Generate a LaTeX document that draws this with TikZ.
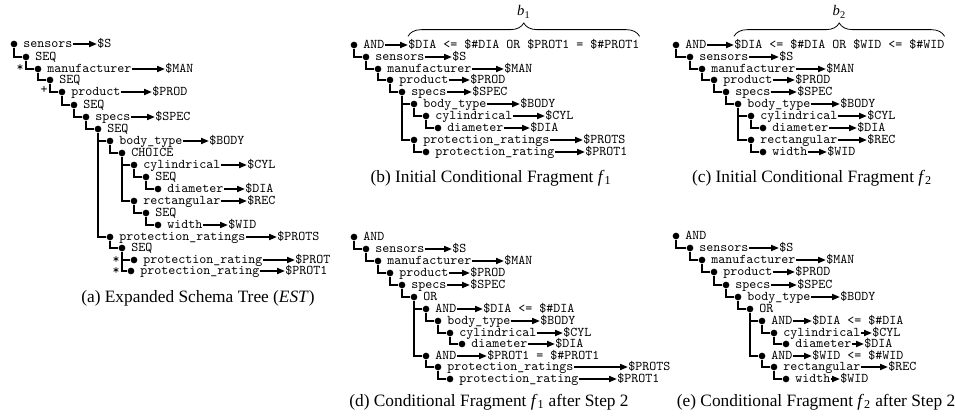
\documentclass[tikz,border=0pt]{standalone}
\usepackage{fontspec}
\setmainfont{Liberation Serif}
\usetikzlibrary{arrows.meta,decorations.pathreplacing}

\tikzset{
    treedot/.style={circle, fill=black, inner sep=0pt, minimum size=5pt},
    treelabel/.style={anchor=base west, inner sep=0pt, font=\ttfamily\fontsize{10}{11}\selectfont},
    treevar/.style={treelabel},
    treemark/.style={anchor=base, inner sep=0pt, font=\ttfamily\fontsize{10}{11}\selectfont},
    treeedge/.style={draw, line width=1.2pt},
    treearrow/.style={draw, line width=1.4pt, -{Triangle[length=6pt,width=4.5pt]}},
    treebrace/.style={draw, line width=0.6pt, decorate, decoration={brace, amplitude=10pt}},
    bracelabel/.style={inner sep=0pt, font=\fontsize{11}{13}\selectfont},
    treecaption/.style={inner sep=0pt, font=\fontsize{13}{15}\selectfont}
}

% one row of a tree: name, dot x, dot y, label
\newcommand{\trow}[4]{%
    \node[treedot] (#1) at (#2,#3) {};
    \node[treelabel] (#1-l) at (#2+9,#3+3.5) {#4};
}
% value bound to a row: name, x of the value, value
\newcommand{\tval}[3]{%
    \node[treevar] (#1-v) at (#1-l.base -| #2,0) {#3};
    \draw[treearrow] (#1-l.east |- #1) -- (#1-v.west |- #1);
}
% parent -> child connector
\newcommand{\tedge}[2]{\draw[treeedge] (#1) |- (#2);}

\begin{document}
\begin{tikzpicture}[x=0.75pt, y=-0.75pt]
\useasboundingbox (0,0) rectangle (955,420);

% (a) expanded schema tree
\trow{a-sensors}{14}{44}{sensors} \tval{a-sensors}{97}{\$S}
\trow{a-seq1}{26}{57}{SEQ}
\trow{a-manuf}{38}{69}{manufacturer} \tval{a-manuf}{165}{\$MAN}
\trow{a-seq2}{50}{80}{SEQ}
\trow{a-product}{62}{92}{product} \tval{a-product}{152}{\$PROD}
\trow{a-seq3}{74}{105}{SEQ}
\trow{a-specs}{86}{117}{specs} \tval{a-specs}{155}{\$SPEC}
\trow{a-seq4}{98}{129}{SEQ}
\trow{a-body}{110}{141}{body\_type} \tval{a-body}{209}{\$BODY}
\trow{a-choice}{122}{153}{CHOICE}
\trow{a-cyl}{134}{165}{cylindrical} \tval{a-cyl}{247}{\$CYL}
\trow{a-seq5}{146}{177}{SEQ}
\trow{a-dia}{158}{189}{diameter} \tval{a-dia}{245}{\$DIA}
\trow{a-rect}{134}{201}{rectangular} \tval{a-rect}{247}{\$REC}
\trow{a-seq6}{146}{213}{SEQ}
\trow{a-wid}{158}{225}{width} \tval{a-wid}{228}{\$WID}
\trow{a-prots}{110}{237}{protection\_ratings} \tval{a-prots}{277}{\$PROTS}
\trow{a-seq7}{122}{248}{SEQ}
\trow{a-prot}{134}{260}{protection\_rating} \tval{a-prot}{295}{\$PROT}
\trow{a-prot1}{131}{271}{protection\_rating} \tval{a-prot1}{285}{\$PROT1}
\tedge{a-sensors}{a-seq1} \tedge{a-seq1}{a-manuf} \tedge{a-manuf}{a-seq2}
\tedge{a-seq2}{a-product} \tedge{a-product}{a-seq3} \tedge{a-seq3}{a-specs}
\tedge{a-specs}{a-seq4} \tedge{a-seq4}{a-body} \tedge{a-seq4}{a-prots}
\tedge{a-body}{a-choice} \tedge{a-choice}{a-cyl} \tedge{a-choice}{a-rect}
\tedge{a-cyl}{a-seq5} \tedge{a-seq5}{a-dia} \tedge{a-rect}{a-seq6}
\tedge{a-seq6}{a-wid} \tedge{a-prots}{a-seq7} \tedge{a-seq7}{a-prot}
\tedge{a-seq7}{a-prot1}
\node[treemark] (a-m1) at (20,72) {*};
\node[treemark] (a-m2) at (44,94) {+};
\node[treemark] (a-m3) at (116,263) {*};
\node[treemark] (a-m4) at (116,274) {*};
\node[treecaption] (a-cap) at (198,298) {(a) Expanded Schema Tree (\textit{EST})};

% (b) initial fragment f1
\trow{b-and}{354}{45}{AND} \tval{b-and}{408}{\$DIA <= \$\#DIA OR \$PROT1 = \$\#PROT1}
\trow{b-sensors}{366}{57}{sensors} \tval{b-sensors}{452}{\$S}
\trow{b-manuf}{378}{69}{manufacturer} \tval{b-manuf}{504}{\$MAN}
\trow{b-product}{390}{80}{product} \tval{b-product}{470}{\$PROD}
\trow{b-specs}{402}{92}{specs} \tval{b-specs}{472}{\$SPEC}
\trow{b-body}{414}{104}{body\_type} \tval{b-body}{520}{\$BODY}
\trow{b-cyl}{426}{116}{cylindrical} \tval{b-cyl}{545}{\$CYL}
\trow{b-dia}{438}{128}{diameter} \tval{b-dia}{530}{\$DIA}
\trow{b-prots}{414}{140}{protection\_ratings} \tval{b-prots}{583}{\$PROTS}
\trow{b-prot1}{426}{152}{protection\_rating} \tval{b-prot1}{585}{\$PROT1}
\tedge{b-and}{b-sensors} \tedge{b-sensors}{b-manuf} \tedge{b-manuf}{b-product}
\tedge{b-product}{b-specs} \tedge{b-specs}{b-body} \tedge{b-specs}{b-prots}
\tedge{b-body}{b-cyl} \tedge{b-cyl}{b-dia} \tedge{b-prots}{b-prot1}
\draw[treebrace] ([yshift=2pt]b-and-v.north west) -- ([yshift=2pt]b-and-v.north east);
\node[bracelabel] (b-brace) at (b-and-v.north |- 0,12) {\textit{b}\textsubscript{1}};
\node[treecaption] (b-cap) at (491,178) {(b) Initial Conditional Fragment \textit{f}\textsubscript{1}};

% (c) initial fragment f2
\trow{c-and}{676}{45}{AND} \tval{c-and}{734}{\$DIA <= \$\#DIA OR \$WID <= \$\#WID}
\trow{c-sensors}{690}{57}{sensors} \tval{c-sensors}{779}{\$S}
\trow{c-manuf}{702}{69}{manufacturer} \tval{c-manuf}{826}{\$MAN}
\trow{c-product}{714}{80}{product} \tval{c-product}{795}{\$PROD}
\trow{c-specs}{726}{92}{specs} \tval{c-specs}{797}{\$SPEC}
\trow{c-body}{738}{104}{body\_type} \tval{c-body}{840}{\$BODY}
\trow{c-cyl}{751}{116}{cylindrical} \tval{c-cyl}{867}{\$CYL}
\trow{c-dia}{763}{128}{diameter} \tval{c-dia}{857}{\$DIA}
\trow{c-rect}{751}{140}{rectangular} \tval{c-rect}{867}{\$REC}
\trow{c-wid}{763}{152}{width} \tval{c-wid}{827}{\$WID}
\tedge{c-and}{c-sensors} \tedge{c-sensors}{c-manuf} \tedge{c-manuf}{c-product}
\tedge{c-product}{c-specs} \tedge{c-specs}{c-body} \tedge{c-body}{c-cyl}
\tedge{c-cyl}{c-dia} \tedge{c-body}{c-rect} \tedge{c-rect}{c-wid}
\draw[treebrace] ([yshift=2pt]c-and-v.north west) -- ([yshift=2pt]c-and-v.north east);
\node[bracelabel] (c-brace) at (c-and-v.north |- 0,12) {\textit{b}\textsubscript{2}};
\node[treecaption] (c-cap) at (812,178) {(c) Initial Conditional Fragment \textit{f}\textsubscript{2}};

% (d) f1 after step 2
\trow{d-and}{354}{237}{AND}
\trow{d-sensors}{366}{249}{sensors} \tval{d-sensors}{452}{\$S}
\trow{d-manuf}{378}{261}{manufacturer} \tval{d-manuf}{504}{\$MAN}
\trow{d-product}{390}{273}{product} \tval{d-product}{470}{\$PROD}
\trow{d-specs}{402}{285}{specs} \tval{d-specs}{470}{\$SPEC}
\trow{d-or}{414}{297}{OR}
\trow{d-and1}{426}{309}{AND} \tval{d-and1}{483}{\$DIA <= \$\#DIA}
\trow{d-body}{438}{321}{body\_type} \tval{d-body}{540}{\$BODY}
\trow{d-cyl}{450}{333}{cylindrical} \tval{d-cyl}{563}{\$CYL}
\trow{d-dia}{462}{344}{diameter} \tval{d-dia}{555}{\$DIA}
\trow{d-and2}{426}{356}{AND} \tval{d-and2}{487}{\$PROT1 = \$\#PROT1}
\trow{d-prots}{438}{367}{protection\_ratings} \tval{d-prots}{628}{\$PROTS}
\trow{d-prot1}{450}{379}{protection\_rating} \tval{d-prot1}{617}{\$PROT1}
\tedge{d-and}{d-sensors} \tedge{d-sensors}{d-manuf} \tedge{d-manuf}{d-product}
\tedge{d-product}{d-specs} \tedge{d-specs}{d-or} \tedge{d-or}{d-and1}
\tedge{d-or}{d-and2} \tedge{d-and1}{d-body} \tedge{d-body}{d-cyl}
\tedge{d-cyl}{d-dia} \tedge{d-and2}{d-prots} \tedge{d-prots}{d-prot1}
\node[treecaption] (d-cap) at (489,402) {(d) Conditional Fragment \textit{f}\textsubscript{1} after Step 2};

% (e) f2 after step 2
\trow{e-and}{676}{236}{AND}
\trow{e-sensors}{690}{248}{sensors} \tval{e-sensors}{779}{\$S}
\trow{e-manuf}{702}{260}{manufacturer} \tval{e-manuf}{826}{\$MAN}
\trow{e-product}{714}{272}{product} \tval{e-product}{795}{\$PROD}
\trow{e-specs}{726}{285}{specs} \tval{e-specs}{797}{\$SPEC}
\trow{e-body}{738}{297}{body\_type} \tval{e-body}{840}{\$BODY}
\trow{e-or}{750}{309}{OR}
\trow{e-and1}{762}{321}{AND} \tval{e-and1}{812}{\$DIA <= \$\#DIA}
\trow{e-cyl}{774}{333}{cylindrical} \tval{e-cyl}{872}{\$CYL}
\trow{e-dia}{786}{344}{diameter} \tval{e-dia}{864}{\$DIA}
\trow{e-and2}{762}{356}{AND} \tval{e-and2}{812}{\$WID <= \$\#WID}
\trow{e-rect}{774}{367}{rectangular} \tval{e-rect}{888}{\$REC}
\trow{e-wid}{786}{379}{width} \tval{e-wid}{840}{\$WID}
\tedge{e-and}{e-sensors} \tedge{e-sensors}{e-manuf} \tedge{e-manuf}{e-product}
\tedge{e-product}{e-specs} \tedge{e-specs}{e-body} \tedge{e-body}{e-or}
\tedge{e-or}{e-and1} \tedge{e-or}{e-and2} \tedge{e-and1}{e-cyl}
\tedge{e-cyl}{e-dia} \tedge{e-and2}{e-rect} \tedge{e-rect}{e-wid}
\node[treecaption] (e-cap) at (816,402) {(e) Conditional Fragment \textit{f}\textsubscript{2} after Step 2};
\end{tikzpicture}
\end{document}
